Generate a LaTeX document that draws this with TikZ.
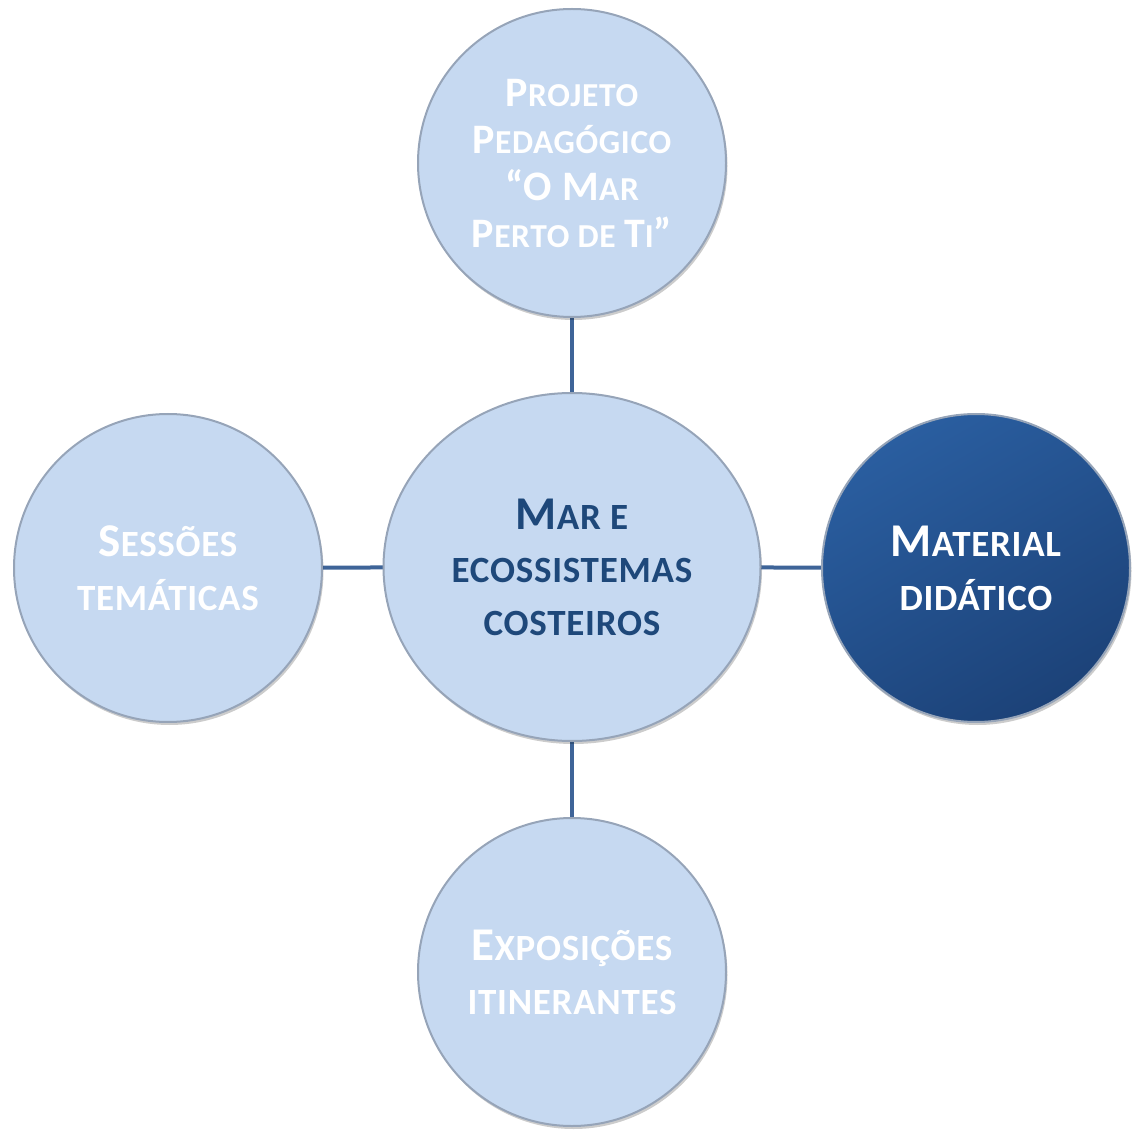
\documentclass[tikz,border=0pt]{standalone}
\usepackage{fontspec}
\setmainfont{Carlito}[LetterSpace=2]
\usetikzlibrary{shadows,shapes.geometric,backgrounds}
\definecolor{lightc}{RGB}{198,217,241}
\definecolor{darkA}{RGB}{42,94,160}
\definecolor{darkB}{RGB}{28,66,120}
\definecolor{txtc}{RGB}{30,72,122}
\definecolor{connc}{RGB}{62,100,152}
\definecolor{rimc}{RGB}{150,164,184}
\newcommand\Bc[1]{{\fontsize{\bigsz}{\bigsz}\selectfont #1}}
\begin{document}
\begin{tikzpicture}[x=1pt,y=-1pt,
  bubble/.style={circle, inner sep=0pt, minimum size=308pt, draw=rimc, line width=2pt,
    fill=lightc, align=center, text=white,
    font=\fontsize{37}{54}\selectfont\bfseries\def\bigsz{47},
    drop shadow={shadow xshift=1.5pt, shadow yshift=-3pt, opacity=0.2, fill=black}},
  topbubble/.style={bubble, font=\fontsize{33.5}{47}\selectfont\bfseries\def\bigsz{42}},
  centerbubble/.style={bubble, ellipse, minimum width=377pt, minimum height=348pt, text=txtc,
    font=\fontsize{37}{53}\selectfont\bfseries\def\bigsz{47}},
  darkbubble/.style={bubble, fill=none, top color=darkA, bottom color=darkB, shading angle=30},
  conn/.style={draw=connc, line width=4pt}]
\useasboundingbox (0,0) rectangle (1133,1131);
\node[topbubble] (top) at (572,163) {\Bc{P}ROJETO\\\Bc{P}EDAGÓGICO\\\Bc{“O M}AR\\\Bc{P}ERTO DE \Bc{T}I\Bc{”}};
\node[bubble] (left) at (168,568) {\Bc{S}ESSÕES\\TEMÁTICAS};
\node[darkbubble] (right) at (976,568) {\Bc{M}ATERIAL\\DIDÁTICO};
\node[bubble] (bottom) at (572,972) {\Bc{E}XPOSIÇÕES\\ITINERANTES};
\node[centerbubble] (center) at (572,567) {\Bc{M}AR E\\ECOSSISTEMAS\\COSTEIROS};
\begin{pgfonlayer}{background}
\draw[conn] (top.center) -- (center.center);
\draw[conn] (left.center) -- (center.center);
\draw[conn] (center.center) -- (right.center);
\draw[conn] (center.center) -- (bottom.center);
\end{pgfonlayer}
\end{tikzpicture}
\end{document}
